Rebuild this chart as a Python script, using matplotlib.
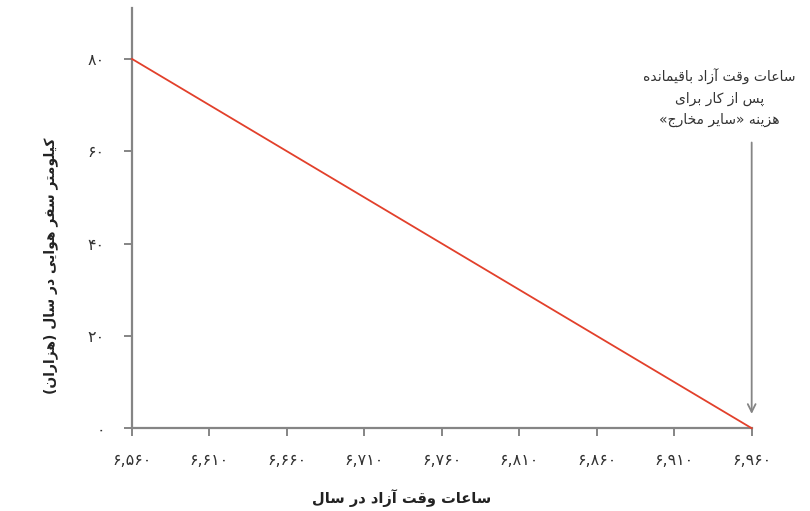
import matplotlib
matplotlib.use("Agg")
from matplotlib import pyplot as plt

# Data
x_vals = [6560, 6960]          # free hours per year
y_vals = [80, 0]               # air kilometres per year (thousands)
x_ticks = [6560, 6610, 6660, 6710, 6760, 6810, 6860, 6910, 6960]
y_ticks = [0, 20, 40, 60, 80]

x_label = "ساعات وقت آزاد در سال"
y_label = "کیلومتر سفر هوایی در سال (هزاران)"
note_lines = ["ساعات وقت آزاد باقیمانده", "پس از کار برای", "هزینه «سایر مخارج»"]

# Minimal Persian shaping: matplotlib does no joining or bidi, so pick
# presentation forms by hand and reverse to visual order.
# (isolated, final, initial, medial)
FORMS = {
    "ا": (0xFE8D, 0xFE8E), "آ": (0xFE81, 0xFE82),
    "د": (0xFEA9, 0xFEAA), "ر": (0xFEAD, 0xFEAE),
    "ز": (0xFEAF, 0xFEB0), "و": (0xFEED, 0xFEEE),
    "ب": (0xFE8F, 0xFE90, 0xFE91, 0xFE92), "پ": (0xFB56, 0xFB57, 0xFB58, 0xFB59),
    "ت": (0xFE95, 0xFE96, 0xFE97, 0xFE98), "ج": (0xFE9D, 0xFE9E, 0xFE9F, 0xFEA0),
    "خ": (0xFEA5, 0xFEA6, 0xFEA7, 0xFEA8), "س": (0xFEB1, 0xFEB2, 0xFEB3, 0xFEB4),
    "ع": (0xFEC9, 0xFECA, 0xFECB, 0xFECC), "ف": (0xFED1, 0xFED2, 0xFED3, 0xFED4),
    "ق": (0xFED5, 0xFED6, 0xFED7, 0xFED8), "ک": (0xFB8E, 0xFB8F, 0xFB90, 0xFB91),
    "ل": (0xFEDD, 0xFEDE, 0xFEDF, 0xFEE0), "م": (0xFEE1, 0xFEE2, 0xFEE3, 0xFEE4),
    "ن": (0xFEE5, 0xFEE6, 0xFEE7, 0xFEE8), "ه": (0xFEE9, 0xFEEA, 0xFEEB, 0xFEEC),
    "ی": (0xFBFC, 0xFBFD, 0xFBFE, 0xFBFF),
}
MIRROR = {"(": ")", ")": "(", "«": "»", "»": "«"}


def shape(text):
    out = []
    for i, ch in enumerate(text):
        if ch not in FORMS:
            out.append(MIRROR.get(ch, ch))
            continue
        prev = text[i - 1] if i > 0 else ""
        nxt = text[i + 1] if i + 1 < len(text) else ""
        join_prev = prev in FORMS and len(FORMS[prev]) == 4
        join_next = len(FORMS[ch]) == 4 and nxt in FORMS
        f = FORMS[ch]
        if join_prev and join_next:
            g = f[3]
        elif join_prev:
            g = f[1]
        elif join_next:
            g = f[2]
        else:
            g = f[0]
        out.append(chr(g))
    return "".join(reversed(out))


def fa_num(n):
    return f"{n:,}".translate(str.maketrans("0123456789", "۰۱۲۳۴۵۶۷۸۹"))


plt.rcParams["font.family"] = ["DejaVu Sans"]

fig = plt.figure(figsize=(8.1, 5.11), dpi=100)
ax = fig.add_axes([0.163, 0.162, 0.765, 0.822])

ax.plot(x_vals, y_vals, color="#e2402b", linewidth=1.3, clip_on=False, zorder=3)

ax.set_xlim(6560, 6960)
ax.set_ylim(0, 91)
ax.set_xticks(x_ticks)
ax.set_xticklabels([fa_num(v) for v in x_ticks])
ax.set_yticks(y_ticks)
ax.set_yticklabels([fa_num(v) for v in y_ticks])

for side in ["top", "right"]:
    ax.spines[side].set_visible(False)
for side in ["left", "bottom"]:
    ax.spines[side].set_color("#858585")
    ax.spines[side].set_linewidth(1.6)
ax.tick_params(axis="both", direction="out", length=5.5, width=1.4,
               color="#858585", labelsize=11.5, labelcolor="#333333")
ax.tick_params(axis="x", pad=12)
ax.tick_params(axis="y", pad=14)

ax.set_xlabel(shape(x_label), fontsize=10.5, fontweight="bold", color="#222222")
ax.xaxis.set_label_coords(0.435, -0.145)
ax.set_ylabel(shape(y_label), fontsize=10, fontweight="bold", color="#222222")
ax.yaxis.set_label_coords(-0.12, 0.387)

ax.annotate("", xy=(6960, 2.5), xytext=(6960, 62.5),
            arrowprops=dict(arrowstyle="->", color="#858585", lw=1.3,
                            mutation_scale=14))
ax.text(6939, 71.5, "\n".join(shape(s) for s in note_lines), ha="center", va="center",
        fontsize=10, color="#333333", linespacing=1.6)

fig.savefig("out.png", dpi=100)
